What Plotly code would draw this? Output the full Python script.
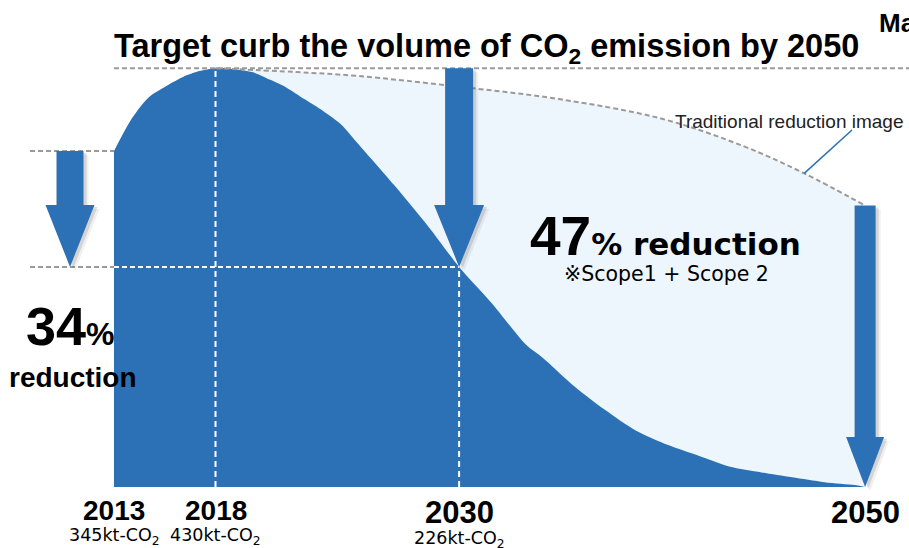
import plotly.graph_objects as go

# CO2 emission pathway (kt-CO2), scope 1 + scope 2
years = [2013, 2013.9, 2014.7, 2015.6, 2016.4, 2017.2, 2018, 2018.9, 2019.8, 2020.7,
         2021.5, 2022.4, 2023.3, 2024.2, 2025.0, 2026.8, 2028.5, 2030, 2031.6, 2033.3,
         2034.1, 2035.7, 2037.2, 2038.7, 2040.3, 2041.8, 2043.3, 2044.9, 2046.4, 2048.0,
         2049.5, 2050]
emissions = [345, 379, 400, 412, 421, 427, 430, 429, 426, 418,
             410, 398, 386, 372, 353, 310, 267, 226, 189, 146,
             133, 103, 79, 58, 43, 32, 21, 15, 10, 5,
             2, 0]

# traditional (gradual) reduction path
trad_years = [2018, 2022, 2025, 2030, 2035, 2040, 2044, 2047, 2050]
trad_emissions = [430, 426, 422, 411, 398, 378, 350, 322, 289]

# milestone years and their emission values
mile_years = [2013, 2018, 2030, 2050]
mile_values = [345, 430, 226, None]

BLUE = "#2C70B6"
LIGHT = "#EEF6FD"
GREY = "#9A9A9A"

W, H = 909, 548
X_RANGE = [2007.384, 2052.162]
Y_RANGE = [-62.63, 500.0]
XPX = (X_RANGE[1] - X_RANGE[0]) / W
YPX = (Y_RANGE[1] - Y_RANGE[0]) / H


def px_x(px):
    return X_RANGE[0] + px * XPX


def pp(px, py):
    return px / W, 1 - py / H


v2013, v2018, v2030 = mile_values[0], mile_values[1], mile_values[2]
cut_2013 = round((v2013 - v2030) / v2013 * 100)
cut_2018 = round((v2018 - v2030) / v2018 * 100)

fig = go.Figure()
fig.add_trace(go.Scatter(x=trad_years, y=trad_emissions, mode="lines",
                         line=dict(width=0, shape="spline"),
                         fill="tozeroy", fillcolor=LIGHT, hoverinfo="skip"))
fig.add_trace(go.Scatter(x=years, y=emissions, mode="lines",
                         line=dict(width=0, color=BLUE, shape="spline", smoothing=0.8),
                         fill="tozeroy", fillcolor=BLUE, hoverinfo="skip"))
fig.add_trace(go.Scatter(x=trad_years, y=trad_emissions, mode="lines",
                         line=dict(color=GREY, width=2, dash="5px,3px", shape="spline"),
                         hoverinfo="skip"))

shapes = []


def hline(x0, x1, y, color, dash="5px,3px", width=2):
    shapes.append(dict(type="line", xref="x", yref="y", x0=x0, x1=x1, y0=y, y1=y,
                       line=dict(color=color, width=width, dash=dash), layer="above"))


def vline(x, y0, y1, color, dash="6px,4px", width=2):
    shapes.append(dict(type="line", xref="x", yref="y", x0=x, x1=x, y0=y0, y1=y1,
                       line=dict(color=color, width=width, dash=dash), layer="above"))


hline(2013, X_RANGE[1], v2018, GREY)
hline(px_x(30), 2013, v2013, GREY)
hline(px_x(30), 2013, v2030, GREY)
hline(2013, 2030, v2030, "white", dash="5px,3px")
vline(2018, 0, v2018, "white")
vline(2030, 0, v2030, "white")


def arrow_path(xc, ytop, ytip, shaft, head, head_len, dx=0, dy=0):
    ox, oy = dx * XPX, -dy * YPX
    hs, hh = shaft / 2 * XPX, head / 2 * XPX
    neck = ytip + head_len * YPX
    pts = [(xc - hs, ytop), (xc + hs, ytop), (xc + hs, neck), (xc + hh, neck),
           (xc, ytip), (xc - hh, neck), (xc - hs, neck)]
    return "M " + " L ".join(f"{x + ox:.4f},{y + oy:.4f}" for x, y in pts) + " Z"


arrows = [
    (px_x(70), v2013, v2030, 27, 49, 62),
    (2030, v2018, v2030, 28, 50, 62),
    (2050, trad_emissions[-1], 0, 21, 38, 50),
]
for a in arrows:
    for (dx, dy, alpha) in [(5, 4, 0.07), (3, 2, 0.14)]:
        shapes.append(dict(type="path", xref="x", yref="y", path=arrow_path(*a, dx=dx, dy=dy),
                           fillcolor=f"rgba(40,40,40,{alpha})", line=dict(width=0), layer="above"))
    shapes.append(dict(type="path", xref="x", yref="y", path=arrow_path(*a),
                       fillcolor=BLUE, line=dict(width=0), layer="above"))

# leader line for the traditional path label
shapes.append(dict(type="line", xref="x", yref="y", x0=2047, y0=322,
                   x1=px_x(852), y1=(487 - 130) / 0.974,
                   line=dict(color=BLUE, width=1.5), layer="above"))

ARIAL = "Liberation Sans, Arial, sans-serif"
ROUND = "DejaVu Sans, Verdana, sans-serif"

ann = []


def text(px, py, s, size, family=ARIAL, xanchor="center", color="black"):
    x, y = pp(px, py)
    ann.append(dict(xref="paper", yref="paper", x=x, y=y, text=s, showarrow=False,
                    xanchor=xanchor, yanchor="middle",
                    font=dict(size=size, family=family, color=color)))


text(486, 48, "<b>Target curb the volume of CO<sub>2</sub> emission by 2050</b>", 32.5)
text(877, 23, "<b>Ma</b>", 26, xanchor="left")
text(789, 121, "Traditional reduction image", 19, ARIAL, color="#222")

year_sizes = [28, 28, 31, 31]
for yr, val, sz in zip(mile_years, mile_values, year_sizes):
    xpx = (yr - X_RANGE[0]) / XPX
    off = 0 if sz == 28 else 2
    text(xpx, 510 + off, f"<b>{yr}</b>", sz)
    if val is not None:
        text(xpx, 536 + (3 if sz == 31 else 0), f"{val}kt-CO<sub>2</sub>", 17.5, ROUND)

text(70, 326, f"<b>{cut_2013}<span style='font-size:32px'>%</span></b>", 54)
text(73, 377, "<b>reduction</b>", 28)
text(665, 236, f"<b>{cut_2018}<span style='font-size:31px;font-family:DejaVu Sans'>% reduction</span></b>", 55)
text(666, 274, "※Scope1 + Scope 2", 20.5, ROUND)

fig.update_layout(
    width=W, height=H, margin=dict(l=0, r=0, t=0, b=0),
    paper_bgcolor="white", plot_bgcolor="white", showlegend=False,
    xaxis=dict(range=X_RANGE, visible=False, fixedrange=True),
    yaxis=dict(range=Y_RANGE, visible=False, fixedrange=True),
    shapes=shapes, annotations=ann,
)
fig.write_html("out.html")
